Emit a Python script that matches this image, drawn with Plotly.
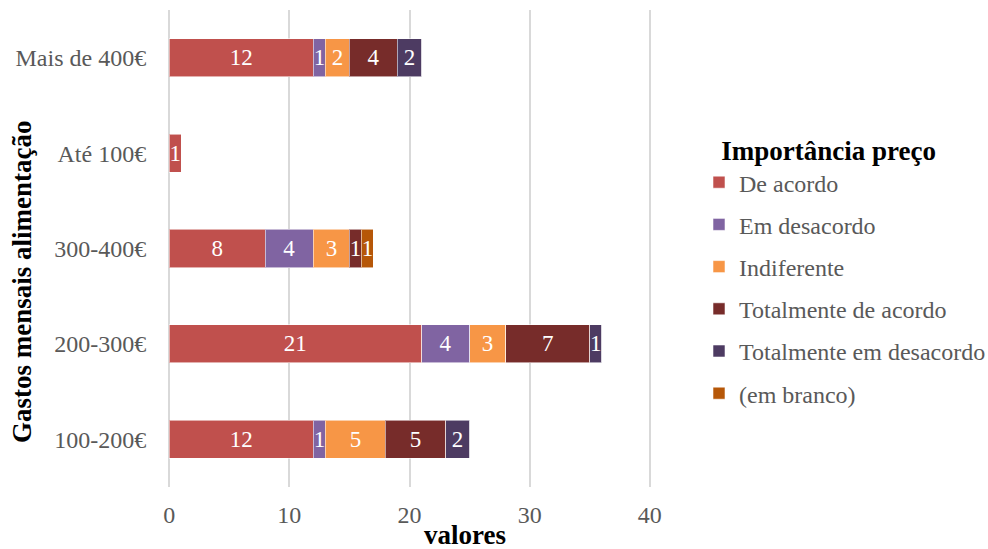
import plotly.graph_objects as go

# Monthly food spending brackets (bottom to top)
categories = ["100-200€", "200-300€", "300-400€", "Até 100€", "Mais de 400€"]

# Counts per answer on "Importância preço"
de_acordo = [12, 21, 8, 1, 12]
em_desacordo = [1, 4, 4, 0, 1]
indiferente = [5, 3, 3, 0, 2]
totalmente_de_acordo = [5, 7, 1, 0, 4]
totalmente_em_desacordo = [2, 1, 0, 0, 2]
em_branco = [0, 0, 1, 0, 0]

series = [
    ("De acordo", de_acordo, "#C0504D"),
    ("Em desacordo", em_desacordo, "#8064A2"),
    ("Indiferente", indiferente, "#F79646"),
    ("Totalmente de acordo", totalmente_de_acordo, "#772C2A"),
    ("Totalmente em desacordo", totalmente_em_desacordo, "#4D3B62"),
    ("(em branco)", em_branco, "#B65708"),
]

FONT = "Liberation Serif"
GREY = "#595959"

# Plot area in pixels
W0, W1, H0, H1 = 168, 651, 10, 487

fig = go.Figure()
for name, vals, color in series:
    fig.add_trace(go.Bar(
        y=categories,
        x=vals,
        name=name,
        orientation="h",
        legendgroup=name,
        marker=dict(color=color, line=dict(color="rgba(255,255,255,0.55)", width=1)),
        text=[str(v) if v else "" for v in vals],
        textposition="inside",
        insidetextanchor="middle",
        textangle=0,
        constraintext="none",
        textfont=dict(family=FONT, size=23, color="white"),
        hoverinfo="x+y+name",
    ))

fig.update_layout(
    width=988,
    height=549,
    barmode="stack",
    bargap=0.6,
    plot_bgcolor="white",
    paper_bgcolor="white",
    margin=dict(l=W0, r=988 - W1, t=H0, b=549 - H1, autoexpand=False),
    font=dict(family=FONT, size=24, color=GREY),
    xaxis=dict(
        range=[-0.1, 40.1],
        tickvals=[0, 10, 20, 30, 40],
        showgrid=True,
        gridcolor="#D9D9D9",
        gridwidth=2,
        zeroline=False,
        showline=False,
        ticks="outside",
        ticklen=6,
        tickcolor="rgba(0,0,0,0)",
        tickfont=dict(family=FONT, size=24, color=GREY),
        fixedrange=True,
    ),
    yaxis=dict(
        categoryorder="array",
        categoryarray=categories,
        showgrid=False,
        zeroline=False,
        showline=False,
        ticks="outside",
        ticklen=16,
        tickcolor="rgba(0,0,0,0)",
        tickfont=dict(family=FONT, size=24, color=GREY),
        fixedrange=True,
    ),
    legend=dict(
        title=dict(text="&nbsp;&nbsp;&nbsp;<b>Importância preço</b>",
                   font=dict(family=FONT, size=27, color="black")),
        font=dict(family=FONT, size=24, color=GREY),
        traceorder="grouped",
        tracegroupgap=8,
        xref="container",
        yref="container",
        x=699 / 988,
        xanchor="left",
        y=1 - 125 / 549,
        yanchor="top",
        maxheight=500,
        itemclick=False,
        itemdoubleclick=False,
    ),
    annotations=[
        dict(text="<b>valores</b>",
             x=(465 - W0) / (W1 - W0), y=(H1 - 535) / (H1 - H0),
             xref="paper", yref="paper", xanchor="center", yanchor="middle",
             showarrow=False, font=dict(family=FONT, size=27, color="black")),
        dict(text="<b>Gastos mensais alimentação</b>", textangle=-90,
             x=(22 - W0) / (W1 - W0), y=(H1 - 282) / (H1 - H0),
             xref="paper", yref="paper", xanchor="center", yanchor="middle",
             showarrow=False, font=dict(family=FONT, size=27, color="black")),
    ],
)

fig.write_html("out.html")
